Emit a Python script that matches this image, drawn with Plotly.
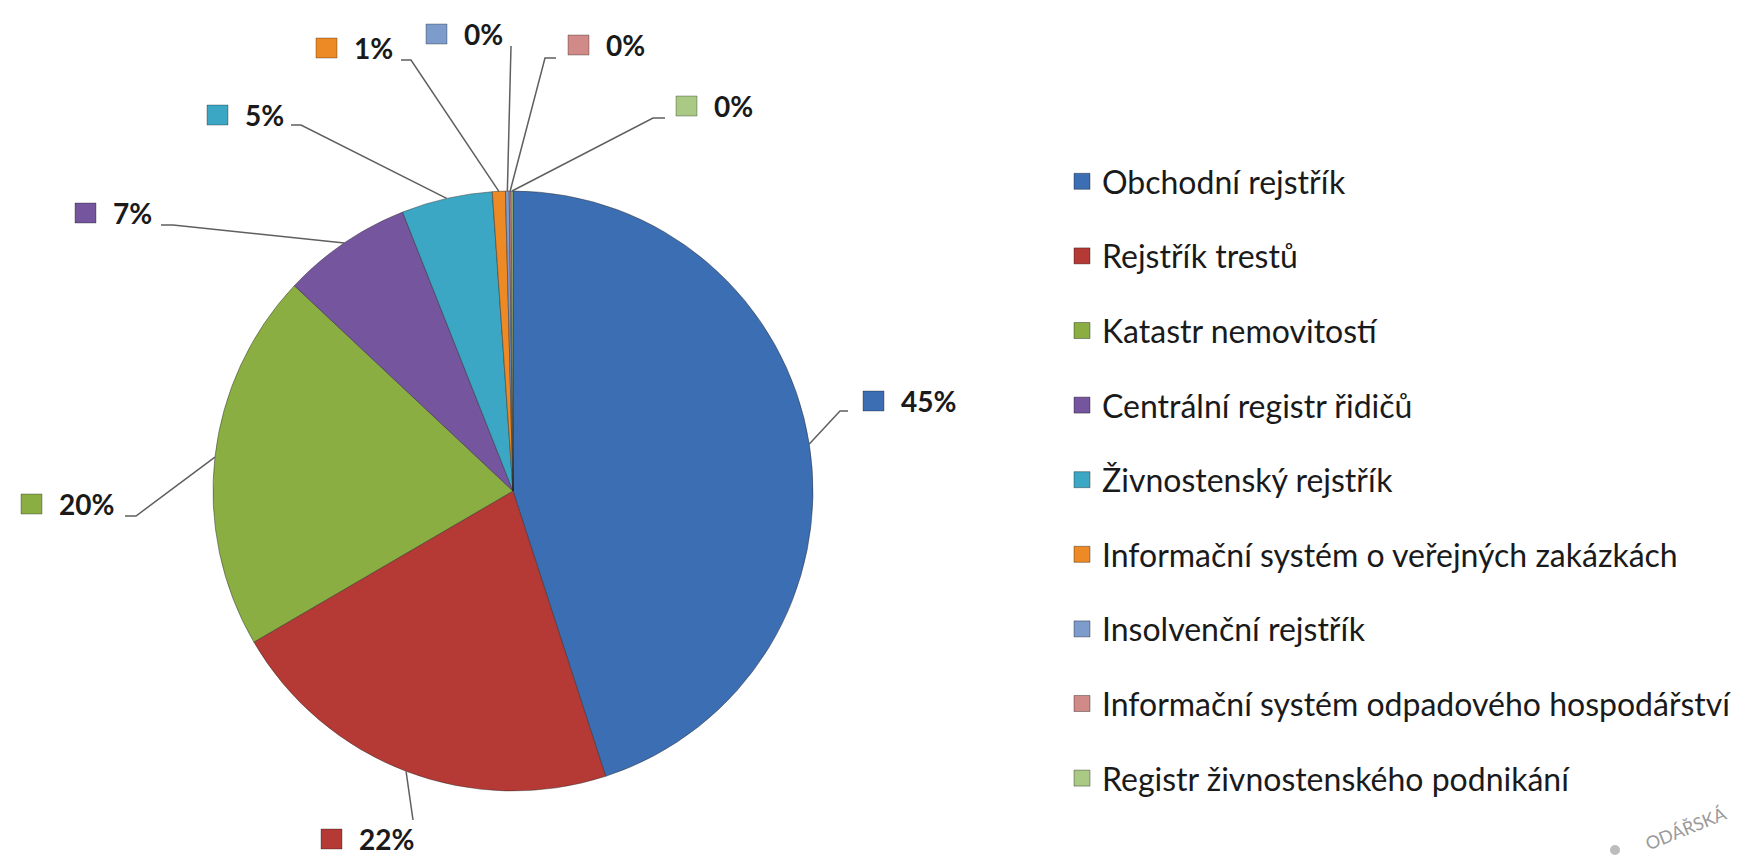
import math
import plotly.graph_objects as go

# ---------------- data ----------------
categories = [
    "Obchodní rejstřík",
    "Rejstřík trestů",
    "Katastr nemovitostí",
    "Centrální registr řidičů",
    "Živnostenský rejstřík",
    "Informační systém o veřejných zakázkách",
    "Insolvenční rejstřík",
    "Informační systém odpadového hospodářství",
    "Registr živnostenského podnikání",
]
shares = [45.0, 21.6, 20.4, 7.0, 4.9, 0.7, 0.2, 0.1, 0.1]
colors = ["#3C6EB4", "#B53A36", "#8AAE42", "#74559E", "#3BA7C4",
          "#EE8A25", "#7E9CCB", "#D08A88", "#A9C985"]

# ---------------- layout geometry (pixels) ----------------
W, H = 1750, 856
CX, CY, R = 505, 483, 300
# data label: left x of the colour square, vertical centre of the label
label_pos = [(855, 393), (313, 831), (13, 496), (67, 205), (199, 107),
             (308, 40), (418, 26), (560, 37), (668, 98)]
# leader-line elbow points (from label side towards the pie)
elbows = [[(840, 403), (832, 403)], [(405, 812)], [(117, 508), (128, 508)],
          [(153, 217), (165, 217)], [(283, 117), (293, 117)],
          [(393, 52), (403, 52)], [(503, 38)], [(548, 50), (537, 50)],
          [(657, 110), (645, 110)]]

total = sum(shares)
fig = go.Figure()

fig.add_trace(go.Pie(
    labels=categories, values=shares, sort=False, direction="clockwise",
    rotation=0, textinfo="none", showlegend=False,
    marker=dict(colors=colors, line=dict(color="rgba(40,40,40,0.45)", width=1)),
    domain=dict(x=[(CX - R) / W, (CX + R) / W], y=[1 - (CY + R) / H, 1 - (CY - R) / H]),
    hoverinfo="label+percent",
))

# legend entries (one per category, separately grouped so spacing can be set)
for i, (cat, col) in enumerate(zip(categories, colors)):
    fig.add_trace(go.Scatter(
        x=[None], y=[None], mode="markers", name=cat, legendgroup=f"g{i}",
        marker=dict(symbol="square", size=16, color=col,
                    line=dict(color="rgba(0,0,0,0.35)", width=1)),
        showlegend=True, hoverinfo="skip",
    ))

shapes = []
annotations = []
cum = 0.0
for i, s in enumerate(shares):
    frac = (cum + s / 2) / total
    cum += s
    th = 2 * math.pi * frac
    ex = CX + R * math.sin(th)
    ey = CY - R * math.cos(th)
    pts = elbows[i] + [(ex, ey)]
    path = "M " + " L ".join(f"{px},{py}" for px, py in pts)
    shapes.append(dict(type="path", path=path, xref="x", yref="y",
                       line=dict(color="#5f5f5f", width=1.5), layer="above"))
    sx, cy = label_pos[i]
    shapes.append(dict(type="rect", xref="x", yref="y", x0=sx, x1=sx + 21,
                       y0=cy - 10, y1=cy + 10, fillcolor=colors[i],
                       line=dict(color="rgba(0,0,0,0.3)", width=1), layer="above"))
    pct = round(100 * s / total)
    annotations.append(dict(x=sx + 36, y=cy, xref="x", yref="y", text=f"{pct}%",
                            showarrow=False, xanchor="left", yanchor="middle",
                            font=dict(family="Lato", size=28, color="#1a1a1a", weight="bold")))

# faint watermark fragment in the bottom-right corner
annotations.append(dict(x=1678, y=820, xref="x", yref="y", text="ODÁŘSKÁ",
                        showarrow=False, textangle=-22,
                        font=dict(family="Lato", size=18, color="#9a9a9a")))
shapes.append(dict(type="circle", xref="x", yref="y", x0=1602, x1=1612, y0=837, y1=847,
                   fillcolor="#bdbdbd", line=dict(width=0)))

fig.update_layout(
    width=W, height=H,
    margin=dict(l=0, r=0, t=0, b=0),
    paper_bgcolor="white", plot_bgcolor="white",
    xaxis=dict(range=[0, W], visible=False, fixedrange=True),
    yaxis=dict(range=[H, 0], visible=False, fixedrange=True),
    shapes=shapes, annotations=annotations,
    legend=dict(x=1054 / W, xanchor="left", y=1 - 146 / H, yanchor="top",
                traceorder="grouped", tracegroupgap=30,
                font=dict(family="Lato", size=32, color="#1a1a1a"),
                bgcolor="rgba(0,0,0,0)"),
    showlegend=True,
)

fig.write_html("out.html")
